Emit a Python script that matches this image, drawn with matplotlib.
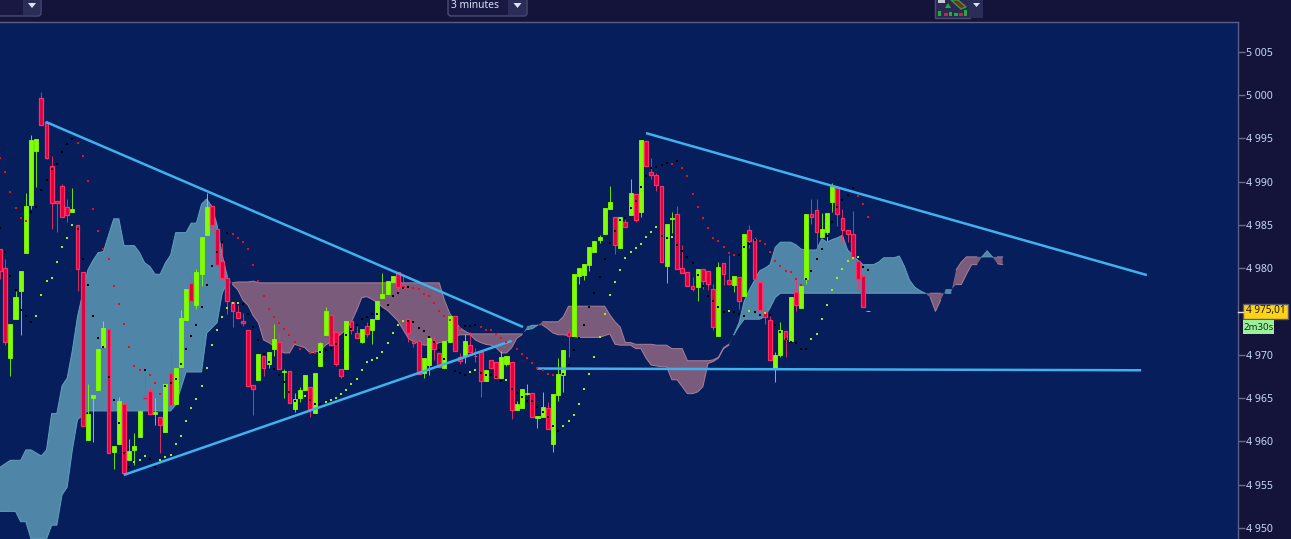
import numpy as np
import matplotlib
matplotlib.use("Agg")
import matplotlib.pyplot as plt
from matplotlib.patches import Rectangle, FancyBboxPatch, Polygon
from matplotlib.ticker import FuncFormatter

# candles, 3 minute bars
opens = [4982.2,4980.0,4969.6,4974.1,4977.4,4981.8,4987.3,4993.5,4999.7,4996.9,
 4991.8,4987.8,4989.5,4987.1,4986.5,4985.0,4979.6,4960.1,4965.0,4965.9,
 4970.9,4973.0,4958.8,4959.7,4964.3,4957.8,4959.0,4960.5,4965.1,4965.8,
 4963.1,4962.8,4961.1,4967.9,4964.3,4968.6,4974.0,4978.3,4975.7,4979.3,
 4983.8,4987.2,4984.5,4980.8,4978.9,4976.1,4974.9,4973.9,4972.9,4966.5,
 4967.1,4969.9,4968.9,4970.7,4971.5,4968.0,4968.1,4963.7,4965.0,4965.9,
 4966.3,4963.3,4968.7,4972.3,4974.6,4972.6,4968.4,4968.4,4973.9,4972.5,
 4971.5,4973.3,4972.9,4974.1,4976.6,4977.0,4978.4,4979.6,4978.0,4974.1,
 4971.6,4971.6,4967.9,4968.8,4971.6,4970.2,4968.5,4971.5,4974.5,4969.7,
 4969.9,4971.1,4969.9,4970.3,4967.0,4969.4,4969.2,4967.3,4968.9,4969.2,
 4963.6,4963.8,4965.5,4965.6,4962.7,4962.8,4963.8,4959.7,4965.3,4967.7,
 4972.6,4972.2,4979.1,4979.2,4980.4,4981.9,4983.3,4983.9,4986.8,4985.9,
 4982.3,4985.3,4986.1,4988.6,4986.5,4994.7,4991.1,4990.8,4989.5,4980.2,
 4985.7,4986.3,4980.0,4979.6,4977.9,4977.8,4979.9,4979.7,4977.6,4972.2,
 4980.6,4978.6,4978.1,4979.0,4976.8,4984.4,4983.4,4978.4,4974.9,4974.0,
 4968.4,4970.0,4972.7,4971.6,4977.2,4975.4,4978.7,4986.3,4986.7,4983.6,
 4984.2,4987.6,4989.4,4985.8,4984.4,4984.0,4980.8,4979.1,4975.05]
highs = [4982.2,4981.1,4973.5,4977.4,4979.7,4988.7,4995.4,4994.9,5000.3,4996.9,
 4992.9,4987.8,4989.7,4988.0,4989.3,4985.0,4979.6,4966.6,4965.3,4970.7,
 4973.9,4973.0,4959.5,4965.1,4964.3,4960.3,4961.0,4963.5,4968.0,4966.3,
 4965.0,4962.8,4966.6,4970.2,4968.5,4975.2,4977.6,4979.0,4979.9,4983.6,
 4988.7,4987.2,4984.5,4982.9,4978.9,4976.1,4975.7,4974.8,4972.9,4966.5,
 4970.1,4969.9,4970.3,4973.6,4972.4,4968.4,4968.1,4965.6,4966.3,4967.7,
 4966.3,4967.9,4971.5,4975.5,4974.6,4972.6,4968.4,4973.9,4973.9,4973.3,
 4973.0,4973.8,4974.1,4976.2,4979.4,4978.5,4979.1,4979.6,4979.3,4974.1,
 4972.3,4971.6,4969.6,4971.9,4972.0,4970.2,4971.6,4974.5,4974.5,4970.2,
 4972.4,4972.6,4970.8,4970.3,4968.2,4969.4,4969.2,4970.4,4969.9,4969.2,
 4964.6,4966.0,4966.6,4965.6,4962.9,4965.7,4964.5,4965.5,4969.6,4970.5,
 4973.2,4979.3,4980.0,4980.5,4982.4,4983.1,4983.8,4986.9,4989.5,4985.9,
 4985.9,4985.7,4990.3,4988.6,4994.8,4994.7,4992.7,4991.0,4989.5,4985.1,
 4986.5,4987.2,4982.7,4979.6,4979.0,4979.9,4979.9,4979.7,4978.2,4980.7,
 4980.6,4981.5,4979.1,4979.0,4984.0,4985.0,4983.6,4978.4,4975.6,4974.5,
 4970.3,4973.8,4972.7,4976.7,4978.7,4977.9,4986.3,4988.0,4988.0,4986.4,
 4986.4,4989.8,4989.4,4986.8,4984.4,4986.6,4980.8,4979.1,4975.05]
lows = [4978.7,4971.1,4967.5,4974.1,4972.3,4981.8,4986.8,4989.4,4996.5,4992.6,
 4984.5,4984.2,4985.9,4985.3,4986.5,4977.4,4961.8,4960.1,4959.9,4965.9,
 4970.9,4958.6,4956.8,4959.7,4956.3,4957.8,4957.3,4960.5,4964.9,4963.1,
 4961.9,4958.6,4961.1,4964.2,4964.3,4968.6,4974.0,4976.2,4975.3,4977.9,
 4983.8,4984.3,4979.9,4978.9,4974.7,4973.2,4974.2,4973.3,4966.4,4963.0,
 4967.1,4967.5,4968.5,4969.9,4968.4,4965.0,4964.4,4963.4,4964.5,4965.9,
 4962.8,4963.3,4968.7,4972.3,4971.1,4968.7,4967.3,4968.4,4972.4,4971.9,
 4971.3,4972.0,4971.2,4974.1,4976.6,4977.0,4978.4,4977.2,4977.7,4971.5,
 4970.9,4967.8,4967.3,4967.7,4969.4,4968.6,4968.5,4971.5,4970.4,4968.9,
 4969.0,4970.3,4969.2,4965.1,4967.0,4968.5,4967.3,4967.3,4968.7,4962.6,
 4963.6,4963.8,4965.3,4962.8,4961.5,4962.8,4961.4,4958.8,4964.6,4965.7,
 4969.7,4972.2,4978.2,4978.6,4979.7,4981.9,4982.9,4983.9,4986.8,4981.6,
 4982.3,4984.8,4986.1,4985.3,4985.9,4991.8,4990.3,4988.9,4980.7,4978.3,
 4984.1,4979.9,4979.4,4977.9,4977.4,4976.2,4977.6,4977.5,4972.9,4972.2,
 4978.1,4978.2,4977.2,4975.3,4976.8,4982.3,4978.7,4975.2,4973.6,4969.4,
 4966.8,4969.7,4969.7,4971.6,4975.0,4975.4,4978.2,4985.1,4982.1,4983.6,
 4983.1,4986.5,4984.9,4982.9,4983.0,4981.3,4977.6,4975.5,4975.05]
closes = [4979.7,4971.5,4973.5,4976.7,4979.7,4987.2,4994.8,4994.9,4996.5,4992.7,
 4987.5,4987.5,4985.9,4986.1,4986.8,4979.9,4961.8,4963.1,4965.3,4970.7,
 4973.1,4958.6,4959.5,4964.6,4956.3,4958.9,4959.5,4963.5,4964.9,4963.1,
 4963.4,4961.9,4966.6,4964.2,4968.5,4974.2,4977.6,4976.2,4979.6,4983.6,
 4987.1,4985.0,4980.4,4978.9,4976.2,4975.1,4974.2,4973.7,4966.4,4966.0,
 4970.1,4968.5,4970.3,4971.8,4968.4,4968.1,4964.4,4964.9,4965.9,4967.7,
 4963.7,4967.9,4971.4,4975.1,4971.1,4968.9,4967.5,4973.9,4972.9,4971.9,
 4973.0,4972.4,4974.1,4976.2,4977.0,4978.5,4979.1,4977.8,4977.7,4972.5,
 4971.3,4967.8,4969.6,4971.9,4970.7,4968.6,4971.6,4974.5,4970.4,4969.3,
 4971.6,4970.3,4969.8,4967.0,4968.2,4968.5,4967.3,4969.7,4969.9,4963.6,
 4964.3,4966.0,4965.6,4962.8,4962.9,4964.0,4961.4,4965.5,4967.8,4970.5,
 4972.2,4979.3,4980.0,4980.5,4982.4,4983.1,4983.6,4986.9,4987.6,4982.7,
 4985.9,4984.8,4988.7,4985.6,4994.8,4991.8,4990.8,4989.6,4980.7,4985.1,
 4985.8,4979.9,4979.4,4977.9,4977.6,4979.9,4978.5,4978.2,4973.2,4980.1,
 4979.3,4978.2,4979.1,4976.2,4984.0,4983.1,4978.7,4975.2,4974.3,4969.4,
 4970.0,4972.9,4971.8,4976.7,4975.7,4977.9,4986.3,4985.9,4984.2,4984.5,
 4986.4,4989.5,4986.3,4984.4,4984.0,4981.3,4978.7,4975.5,4975.05]

# parabolic sar above price
sar_red_x = [0,1,2,3,4,5,15,16,17,18,19,20,21,22,23,24,25,26,27,29,30,31,
 45,46,47,48,49,50,51,52,53,54,55,56,57,58,60,61,
 80,81,82,83,84,85,86,87,88,89,93,94,95,96,97,98,100,101,102,103,104,105,106,107,
 130,132,133,134,135,136,137,138,139,140,141,142,
 147,148,149,150,151,152,153,154,155,166,167,168]
sar_red = [4992.7,4991.1,4988.8,4987.0,4985.8,4985.4,4994.5,4993.0,4990.1,4986.8,4984.3,4982.2,
 4981.0,4977.9,4975.9,4973.5,4970.9,4968.7,4968.2,4967.6,4966.7,4965.5,
 4983.9,4983.5,4983.0,4982.2,4980.4,4978.5,4976.8,4975.3,4974.4,4973.7,4973.0,4972.3,4971.5,4970.7,4970.2,4970.2,
 4977.7,4977.6,4977.0,4976.8,4976.0,4975.1,4974.5,4974.0,4973.4,4973.1,4973.2,4972.8,4972.8,4972.4,4971.9,4971.5,
 4970.7,4970.1,4969.6,4969.0,4968.5,4968.2,4967.8,4967.6,
 4992.0,4991.6,4990.6,4988.6,4987.1,4985.8,4984.6,4983.5,4983.1,4982.4,4981.7,4981.5,
 4983.1,4982.8,4981.9,4980.8,4980.2,4979.7,4979.6,4978.8,4978.1,4988.3,4987.4,4985.9]

# parabolic sar below price
sar_lime_x = [7,8,9,10,11,12,13,14,26,27,28,31,32,33,34,35,36,37,38,39,40,41,42,43,44,45,46,
 59,63,64,65,66,67,68,69,70,71,72,73,74,75,76,77,78,91,92,98,
 109,110,111,112,113,114,115,116,117,118,119,120,121,122,123,124,125,126,127,130,
 141,145,148,157,158,159,160,161,162,163,164,165,166]
sar_lime = [4974.5,4976.9,4978.5,4978.9,4980.7,4982.4,4983.5,4985.0,4957.6,4957.8,4958.3,4957.8,4958.2,4958.4,
 4959.7,4960.6,4962.3,4963.8,4964.9,4966.4,4968.5,4971.1,4972.9,4974.4,4975.4,4976.0,4976.0,
 4965.2,4964.5,4964.8,4965.0,4965.5,4965.9,4966.6,4967.2,4968.2,4969.2,4969.4,4969.6,4970.3,4971.4,4972.5,4973.4,4973.9,
 4968.0,4968.2,4967.1,
 4961.8,4962.3,4963.0,4964.3,4966.0,4967.8,4969.7,4972.0,4974.7,4976.9,4978.4,4979.8,4981.2,4981.9,4982.3,4982.8,
 4983.6,4984.2,4984.8,4983.6,
 4975.1,4975.1,4974.8,4971.8,4972.4,4974.1,4975.7,4977.5,4978.9,4979.9,4980.8,4981.2,4981.3]

# second sar, the black one
sar_black_x = [0,1,2,3,4,5,6,6,7,8,9,10,11,12,13,14,15,16,17,18,19,20,21,22,23,24,25,28,29,30,
 32,33,34,35,36,37,38,39,40,41,42,43,44,47,48,49,50,51,52,53,54,55,56,57,60,61,62,62,63,64,65,
 67,68,69,70,71,72,73,74,75,76,77,78,79,79,80,81,82,83,84,85,86,88,89,90,90,91,92,93,94,95,96,97,
 99,100,101,102,103,104,105,106,107,108,109,110,111,112,113,114,115,116,117,118,119,120,121,122,123,124,
 125,126,127,128,129,131,128,129,131,132,133,134,135,136,137,138,139,140,142,143,144,146,147,149,150,151,
 152,153,154,155,156,143,144,145,146,157,158,159,160,161,162,163,164,165,156,167,168]
sar_black = [4984.6,4981.9,4979.1,4977.5,4975.2,4974.5,4973.8,4986.5,4987.1,4989.0,4990.2,4991.5,4992.0,4993.4,4994.3,4994.9,
 4984.5,4981.1,4978.1,4974.5,4971.9,4970.9,4967.4,4964.8,4962.1,4958.6,4957.0,4968.2,4957.9,4957.0,
 4966.4,4966.7,4967.2,4968.9,4970.7,4972.2,4973.4,4975.5,4978.0,4980.2,4981.9,4983.0,4984.1,
 4975.9,4974.7,4973.2,4971.7,4970.1,4969.2,4968.3,4967.7,4966.8,4965.7,4964.7,4964.8,4964.3,4964.3,4970.3,4970.5,4970.8,4971.2,
 4972.3,4973.0,4973.4,4974.1,4974.4,4974.7,4974.7,4975.2,4975.7,4976.8,4977.1,4977.7,4977.8,4973.9,4973.8,4973.1,4972.7,4972.0,
 4971.5,4970.5,4969.5,4968.1,4967.9,4967.7,4973.3,4973.3,4973.4,4967.9,4967.7,4967.7,4967.4,4967.0,
 4966.0,4965.6,4965.1,4964.7,4964.6,4964.0,4963.4,4962.8,4961.8,4961.2,4967.8,4968.8,4970.5,4971.9,4973.4,4975.5,4977.1,4979.0,
 4981.1,4982.9,4984.3,4985.6,4985.8,4986.9,4987.8,4989.4,4990.6,4991.6,4991.7,4991.9,4992.1,4992.4,4983.7,4983.5,4982.7,4982.0,
 4981.3,4980.6,4979.2,4977.9,4976.8,4976.2,4975.5,4974.9,4974.9,4974.7,4974.5,4974.9,4974.6,4974.6,4973.4,4972.6,
 4971.8,4971.5,4971.4,4970.7,4970.7,4981.5,4982.4,4982.8,4983.3,4979.7,4981.1,4982.2,4983.7,4985.3,4987.1,4987.9,4988.5,4989.3,
 4978.7,4980.1,4979.8]

# ichimoku spans, runs on past the last candle
cloud_x = [0,2,3,4,5,6,8,9,10,11,12,13,14,15,17,18,19,20,22,23,24,26,27,28,29,30,31,32,33,34,36,37,38,39,40,41,42,43,44,
 45,46,47,48,49,50,51,52,53,54,55,56,57,58,59,60,61,62,63,64,65,66,67,68,69,70,71,72,73,74,75,76,77,78,79,80,
 81,82,83,84,85,86,87,88,89,90,91,92,93,94,95,96,97,98,99,100,101,102,103,104,105,106,107,108,109,110,112,114,116,117,118,119,
 120,121,122,123,124,125,126,127,128,129,130,131,132,133,134,135,136,137,138,139,140,141,142,143,144,145,146,147,148,149,
 150,151,153,154,155,156,158,159,160,161,162,163,164,165,166,167,169,170,171,173,174,175,176,177,178,179,
 180,181,182,183,184,185,186,187,188,189,190,191,192,193,194]
span_a = [4957.0,4957.8,4957.8,4957.8,4959.0,4959.0,4958.3,4959.0,4963.2,4963.2,4966.4,4967.3,4970.5,4974.4,4979.8,4980.9,4981.8,4981.9,
 4985.7,4985.7,4982.6,4982.6,4981.8,4980.6,4980.2,4979.3,4979.3,4980.6,4981.5,4984.1,4984.1,4985.2,4985.2,4987.4,4988.0,4987.1,4985.0,4981.5,4979.0,
 4978.1,4977.5,4976.3,4975.7,4974.5,4973.7,4971.7,4971.4,4971.0,4970.5,4970.2,4970.2,4971.2,4971.0,4970.8,4970.2,4970.3,4970.5,4971.1,4971.5,4971.9,
 4972.4,4972.9,4973.8,4975.1,4976.6,4976.7,4976.4,4976.0,4975.5,4975.1,4974.5,4973.9,4972.9,4971.9,4971.5,
 4971.4,4971.1,4971.1,4971.1,4971.4,4971.5,4971.7,4972.1,4972.3,4972.3,4972.3,4971.7,4971.4,4971.2,4971.1,4970.8,4970.2,4970.2,4970.8,4971.9,
 4972.3,4973.2,4973.4,4973.4,4973.4,4973.0,4972.5,4972.3,4972.3,4972.2,4972.0,4972.0,4972.0,4972.2,4972.4,4971.2,
 4971.1,4971.1,4971.1,4970.7,4970.7,4969.6,4968.8,4968.7,4968.6,4968.6,4967.1,4967.1,4966.3,4965.5,4965.5,4965.7,4966.3,4969.0,4969.2,4969.6,4970.7,4971.1,
 4972.3,4973.7,4976.2,4977.5,4978.6,4979.7,4980.0,4980.4,
 4982.4,4983.0,4983.0,4982.7,4982.2,4982.1,4982.1,4983.4,4983.0,4983.3,4983.5,4983.8,4982.1,4981.5,4980.9,4980.4,4980.4,4980.7,4981.2,4981.2,4981.4,4980.2,4978.6,4977.8,4977.4,4977.1,
 4976.6,4975.0,4976.3,4977.5,4977.5,4978.1,4978.1,4979.3,4980.4,4980.4,4981.3,4982.0,4981.3,4980.5,4980.4]
span_b = [4951.9,4951.9,4951.9,4950.7,4950.7,4948.7,4948.7,4948.7,4950.3,4950.3,4953.8,4954.7,4959.0,4962.5,4963.5,4963.5,4963.5,4963.5,
 4963.5,4963.5,4963.5,4963.5,4963.5,4963.5,4963.5,4963.5,4963.5,4963.5,4963.5,4964.2,4968.0,4968.0,4968.0,4968.0,4972.5,4973.1,4973.7,4977.1,4978.4,
 4978.3,4978.4,4978.4,4978.4,4978.5,4978.3,4978.3,4978.3,4978.3,4978.3,4978.3,4978.3,4978.3,4978.3,4978.3,4978.3,4978.3,4978.3,4978.3,4978.3,4978.3,
 4978.3,4978.3,4978.3,4978.3,4978.3,4978.3,4978.3,4978.3,4978.3,4978.3,4978.3,4978.3,4978.3,4978.3,4978.3,
 4978.3,4978.3,4978.3,4978.3,4978.3,4976.3,4974.8,4973.9,4973.1,4972.7,4972.4,4972.4,4972.4,4972.4,4972.4,4972.4,4972.4,4972.4,4972.4,4972.4,
 4972.4,4972.9,4973.0,4973.4,4973.8,4973.8,4973.8,4973.8,4974.4,4975.6,4975.6,4975.6,4975.6,4975.6,4974.6,4973.8,
 4973.2,4971.4,4971.4,4971.2,4971.2,4971.2,4971.2,4971.1,4971.1,4971.1,4970.7,4970.7,4970.7,4969.3,4969.3,4969.3,4969.3,4969.3,4969.4,4969.7,4970.8,4971.2,
 4972.3,4973.3,4974.1,4974.1,4974.1,4974.1,4974.4,4975.4,
 4976.6,4977.1,4977.1,4977.1,4977.1,4977.1,4977.1,4977.1,4977.1,4977.1,4977.1,4977.1,4977.1,4977.1,4977.1,4977.1,4977.1,4977.1,4977.1,4977.1,4977.1,4977.1,4977.1,4977.1,4977.1,4977.1,
 4977.1,4977.1,4977.1,4977.1,4977.1,4979.8,4980.7,4981.3,4981.3,4981.3,4981.3,4981.3,4981.3,4981.3,4981.3]

# hand drawn lines, bar index then price
trend_top_x = [8.84, 101.2]
trend_top = [4996.9, 4973.2]
trend_low_x = [23.94, 99.0]
trend_low = [4956.1, 4971.6]
trend_right_x = [125.0, 221.9]
trend_right = [4995.6, 4979.2]
trend_flat_x = [103.9, 220.8]
trend_flat = [4968.4, 4968.2]

# 4975 sits under the last price flag
price_ticks = [4950,4955,4960,4965,4970,4980,4985,4990,4995,5000,5005]
last_price = "4 975,01"
countdown = "2m30s"
timeframe = "3 minutes"

W, H = 1291, 539
BG = "#14143a"
NAVY = "#061e5c"
GREEN = "#80ff00"
RED = "#e0003c"
RED_EDGE = "#ff2f66"

plt.rcParams["font.family"] = ["Noto Sans", "DejaVu Sans"]
fig = plt.figure(figsize=(W/100, H/100), dpi=100, facecolor=BG)
ax = fig.add_axes([0, 0, 1238/W, (539-21.5)/H], facecolor=NAVY)
ax.set_xlim(0, 1237.7/5.167)
ax.set_ylim(5010.98-0.11554*539, 5010.98-0.11554*21.5)

x = np.arange(len(opens))
o = np.array(opens)
h = np.array(highs)
l = np.array(lows)
c = np.array(closes)
up = c >= o

# cloud
cx = np.array(cloud_x, dtype=float)
a = np.array(span_a)
b = np.array(span_b)
ax.fill_between(cx, a, b, where=a >= b, interpolate=True, color="#4f86a8", lw=0, zorder=1)
ax.fill_between(cx, a, b, where=a < b, interpolate=True, color="#7b5b7c", lw=0, zorder=1)
hi = np.maximum(a, b)
lo = np.minimum(a, b)
ax.plot(cx, np.ma.masked_where(a < b, hi), color="#62a0bc", lw=0.7, zorder=1)
ax.plot(cx, np.ma.masked_where(a < b, lo), color="#62a0bc", lw=0.7, zorder=1)
ax.plot(cx, np.ma.masked_where(a >= b, hi), color="#a88098", lw=0.7, zorder=1)
ax.plot(cx, np.ma.masked_where(a >= b, lo), color="#a88098", lw=0.7, zorder=1)

# candles
ax.vlines(x[up], l[up], h[up], color=GREEN, lw=0.6, zorder=2)
ax.vlines(x[~up], l[~up], h[~up], color=RED_EDGE, lw=0.6, zorder=2)
ax.bar(x[up], (c-o)[up], bottom=o[up], width=0.78, color=GREEN, edgecolor=GREEN, lw=0.6, zorder=3)
ax.bar(x[~up], (c-o)[~up], bottom=o[~up], width=0.74, color=RED, edgecolor=RED_EDGE, lw=0.9, zorder=3)

# trend lines
for tx, ty in [(trend_top_x, trend_top), (trend_low_x, trend_low),
               (trend_right_x, trend_right), (trend_flat_x, trend_flat)]:
    ax.plot(tx, ty, color="#3fb2ee", lw=1.8, zorder=4, solid_capstyle="butt")

# sar dots
ax.scatter(sar_red_x, sar_red, marker="s", s=4.2, color="#f00a1e", lw=0, zorder=5)
ax.scatter(sar_lime_x, sar_lime, marker="s", s=4.2, color="#a6f000", lw=0, zorder=5)
ax.scatter(sar_black_x, sar_black, marker="s", s=4.2, color="#000000", lw=0, zorder=5)

ax.set_yticks(price_ticks)
ax.yaxis.tick_right()
ax.yaxis.set_major_formatter(FuncFormatter(lambda v, p: f"{int(v):,}".replace(",", " ")))
ax.tick_params(axis="y", length=5, width=1, color="#6a6a90", labelcolor="#c8d8f8",
               labelsize=7.6, pad=0.5)
ax.set_xticks([])
for s in ["left", "bottom"]:
    ax.spines[s].set_visible(False)
for s in ["top", "right"]:
    ax.spines[s].set_color("#5c5c84")
    ax.spines[s].set_linewidth(1)

# toolbar and price flags, pixel space
ov = fig.add_axes([0, 0, 1, 1], facecolor="none")
ov.set_xlim(0, W)
ov.set_ylim(H, 0)
ov.axis("off")

def dropdown(x0, x1, btn):
    ov.add_patch(FancyBboxPatch((x0, -8), x1-x0, 24, boxstyle="round,pad=0,rounding_size=3",
                                fc="#181842", ec="#4c4c70", lw=1))
    ov.add_patch(Rectangle((btn, 0), x1-btn-1, 15, fc="#2c2c58", ec="none"))
    cx0 = (btn+x1)/2
    ov.add_patch(Polygon([(cx0-4, 3), (cx0+4, 3), (cx0, 8)], fc="#dfe4f5", ec="none"))

dropdown(-20, 41, 23)
dropdown(448, 527, 508)
ov.text(451, 5, timeframe, color="#d8e0f5", fontsize=7.4, va="center", ha="left")

# strategy icon
ov.add_patch(Rectangle((935, -2), 35, 20, fc="#2a2a50", ec="#4c4c70", lw=1))
ov.add_patch(Rectangle((970, 0), 13, 18, fc="#2c2c58", ec="none"))
ov.add_patch(Polygon([(973, 3), (980, 3), (976.5, 7)], fc="#dfe4f5", ec="none"))
ov.add_patch(Rectangle((938, 11), 3, 5, fc="#1fae3a", ec="none"))
ov.add_patch(Rectangle((944, 13), 4, 3, fc="#d02040", ec="none"))
ov.add_patch(Rectangle((949, 12), 3, 4, fc="#1fae3a", ec="none"))
ov.add_patch(Rectangle((954, 13), 4, 3, fc="#1fae3a", ec="none"))
ov.add_patch(Rectangle((959, 13), 4, 3, fc="#d02040", ec="none"))
ov.add_patch(Rectangle((964, 10), 3, 6, fc="#1fae3a", ec="none"))
ov.add_patch(Polygon([(945, 8), (948, 3), (951, 8)], fc="#1fae3a", ec="none"))
ov.add_patch(Polygon([(951, 0), (958, 0), (966, 7), (961, 9)], fc="#8a2424", ec="#2fa040", lw=1))
ov.add_patch(Rectangle((938, 0), 7, 3, fc="#c8c8d8", ec="none"))

# last price flag
ov.add_patch(Rectangle((1243, 303.5), 45, 15.5, fc="#ffd21a", ec="#5a5a70", lw=1))
ov.plot([1238, 1243], [311.5, 311.5], color="#e0e0f0", lw=1)
ov.text(1265.5, 311, last_price, color="#1a1a1a", fontsize=7.2, fontweight="bold", ha="center", va="center")
ov.add_patch(Rectangle((1243, 320), 31, 14, fc="#9cf09c", ec="none"))
ov.text(1258.5, 327, countdown, color="#123018", fontsize=7, ha="center", va="center")

fig.savefig("out.png", dpi=100, facecolor=BG)
